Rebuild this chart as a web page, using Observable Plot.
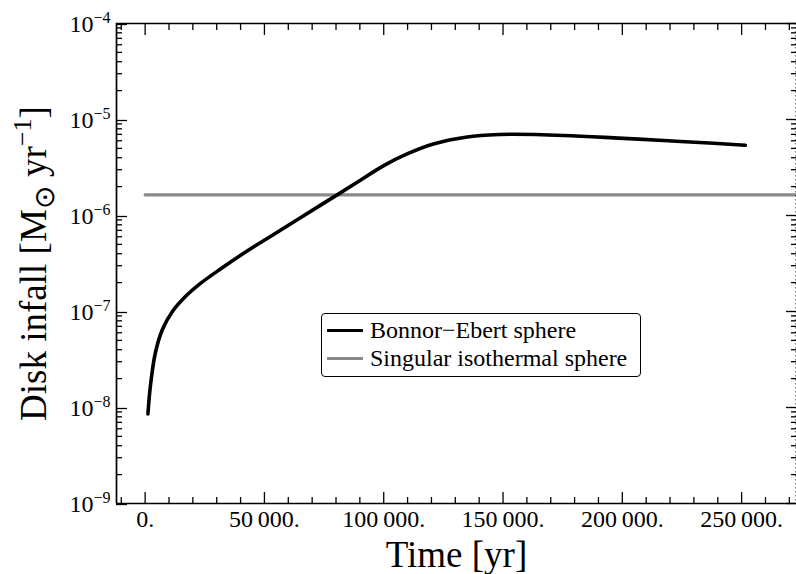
<!DOCTYPE html>
<html>
<head>
<meta charset="utf-8">
<script src="https://cdn.jsdelivr.net/npm/d3@7"></script>
<script src="https://cdn.jsdelivr.net/npm/@observablehq/plot@0.6"></script>
<style>
  html, body { margin: 0; padding: 0; background: #fff; }
  #wrap { position: relative; width: 796px; height: 574px; font-family: "Liberation Serif", serif; }
  #legend { position: absolute; left: 321px; top: 313px; width: 318px; height: 62px;
    border: 1.5px solid #000; border-radius: 4px; background: #fff; box-sizing: content-box; }
  .row { position: absolute; left: 0; height: 28px; font-size: 24px; line-height: 28px; white-space: nowrap; color: #000; font-family: "Liberation Serif", serif; }
  .sw { position: absolute; left: 5px; width: 36px; top: 12px; }
  .lab { position: absolute; left: 48px; top: -1px; }
</style>
</head>
<body>
<div id="wrap"></div>
<script>
// ---- data ----
const beTime = [1170, 2220, 4320, 7250, 11440, 16890, 23180, 31560, 42750, 52510, 65080,
                80470, 90230, 100000, 109800, 120800, 135000, 148900, 154500, 175400, 196400,
                217300, 238300, 251600];
const beRate = [8.56e-9, 1.69e-8, 3.74e-8, 6.49e-8, 1.00e-7, 1.43e-7, 1.96e-7, 2.77e-7, 4.27e-7,
                6.05e-7, 9.48e-7, 1.64e-6, 2.33e-6, 3.31e-6, 4.38e-6, 5.56e-6, 6.58e-6, 6.98e-6,
                7.01e-6, 6.81e-6, 6.44e-6, 6.04e-6, 5.66e-6, 5.40e-6];
const sisTime = [0, 300000];
const sisRate = [1.64e-6, 1.64e-6];
const seriesNames = ["Bonnor\u2212Ebert sphere", "Singular isothermal sphere"];
const seriesColors = ["#000000", "#8a8a8a"];
const xMajor = [0, 50000, 100000, 150000, 200000, 250000];
const xMinor = d3.range(-10000, 273001, 10000).filter(v => v % 50000 !== 0);
const yMajor = [1e-9, 1e-8, 1e-7, 1e-6, 1e-5, 1e-4];
const yMinor = [];
for (let e = -9; e < -4; e++) for (let m = 2; m <= 9; m++) yMinor.push(m * Math.pow(10, e));
const xDomain = [-12000, 273000];
const yDomain = [1e-9, 1e-4];
const xTitle = "Time [yr]";
const yTitle = "Disk infall [M\u2299 yr\u22121]";

const beData = beTime.map((t, i) => ({t, v: beRate[i]}));
const sisData = sisTime.map((t, i) => ({t, v: sisRate[i]}));

const fmtTime = d => d === 0 ? "0." : d3.format(",")(d).replace(/,/g, "\u2009") + ".";
const blank = () => "";

const chart = Plot.plot({
  width: 796, height: 574,
  marginLeft: 116, marginRight: 0, marginTop: 23, marginBottom: 71,
  style: {fontFamily: "Liberation Serif", fontSize: "24px", color: "#000", background: "#fff"},
  x: {domain: xDomain},
  y: {type: "log", domain: yDomain},
  marks: [
    Plot.line(sisData, {x: "t", y: "v", stroke: seriesColors[1], strokeWidth: 3.2, clip: true}),
    Plot.line(beData, {x: "t", y: "v", stroke: seriesColors[0], strokeWidth: 3.6, curve: "catmull-rom"}),
    Plot.axisX({anchor: "bottom", ticks: xMajor, tickSize: -11, tickPadding: 17.5, tickFormat: fmtTime, label: null, strokeWidth: 1.3}),
    Plot.axisX({anchor: "bottom", ticks: xMinor, tickSize: -6, tickFormat: blank, label: null, strokeWidth: 1.3}),
    Plot.axisX({anchor: "top", ticks: xMajor, tickSize: -11, tickFormat: blank, label: null, strokeWidth: 1.3}),
    Plot.axisX({anchor: "top", ticks: xMinor, tickSize: -6, tickFormat: blank, label: null, strokeWidth: 1.3}),
    Plot.axisY({anchor: "left", ticks: yMajor, tickSize: -11, tickPadding: 17, tickFormat: d => "10^" + Math.round(Math.log10(d)), label: null, strokeWidth: 1.3, dy: 1}),
    Plot.axisY({anchor: "left", ticks: yMinor, tickSize: -6, tickFormat: blank, label: null, strokeWidth: 1.3}),
    Plot.axisY({anchor: "right", ticks: yMajor, tickSize: -11, tickFormat: blank, label: null, strokeWidth: 1.3}),
    Plot.axisY({anchor: "right", ticks: yMinor, tickSize: -6, tickFormat: blank, label: null, strokeWidth: 1.3}),
    Plot.ruleY(yDomain, {stroke: "#000", strokeWidth: 1.7}),
    Plot.ruleX([xDomain[0]], {stroke: "#000", strokeWidth: 1.7}),
    Plot.ruleX([xDomain[1]], {stroke: "#000", strokeWidth: 2, strokeDasharray: "1.5,2.5"}),
    Plot.text([xTitle], {text: d => d, frameAnchor: "bottom", dy: 63, lineAnchor: "bottom", textAnchor: "middle", fontSize: 37}),
    Plot.text([yTitle], {text: d => d, frameAnchor: "left", dx: -71, rotate: -90, lineAnchor: "bottom", textAnchor: "middle", fontSize: 37})
  ]
});

const wrap = document.getElementById("wrap");
wrap.appendChild(chart);

// superscripts on y tick labels, sub/superscript in the y title
d3.select(chart).selectAll("text").each(function() {
  const s = this.textContent;
  const t = d3.select(this);
  if (s.startsWith("10^")) {
    const ex = s.slice(3).replace("-", "\u2212");
    t.text("10");
    t.append("tspan").attr("dy", -9).attr("font-size", 16).text(ex);
  } else if (s === yTitle) {
    t.text("Disk infall [M");
    t.append("tspan").attr("dy", 8).attr("font-size", 28).text("\u2299");
    t.append("tspan").attr("dy", -8).attr("font-size", 37).text(" yr");
    t.append("tspan").attr("dy", -15).attr("font-size", 26).text("\u22121");
    t.append("tspan").attr("dy", 15).attr("font-size", 37).text("]");
  }
});

// legend (overlay inside the plot frame)
const legend = document.createElement("div");
legend.id = "legend";
seriesNames.forEach((name, i) => {
  const row = document.createElement("div");
  row.className = "row";
  row.style.top = (i === 0 ? 3 : 31) + "px";
  row.style.width = "318px";
  const sw = document.createElement("div");
  sw.className = "sw";
  sw.style.borderTop = `${i === 0 ? 3.6 : 3.2}px solid ${seriesColors[i]}`;
  const lab = document.createElement("span");
  lab.className = "lab";
  lab.textContent = name;
  row.appendChild(sw); row.appendChild(lab);
  legend.appendChild(row);
});
wrap.appendChild(legend);
</script>
</body>
</html>
